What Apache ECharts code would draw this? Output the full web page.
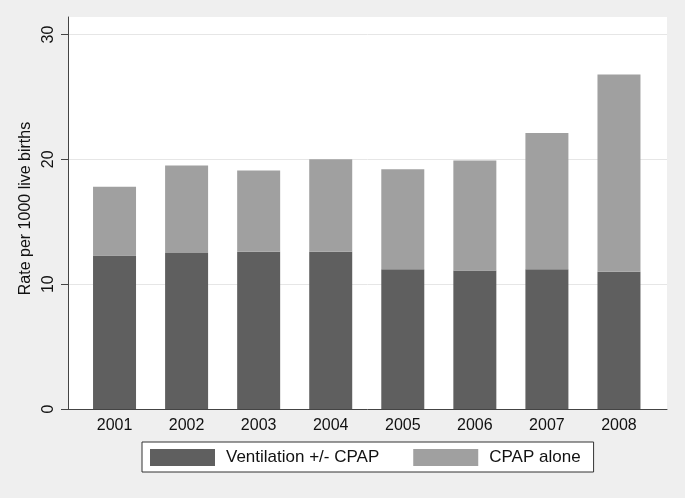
<!DOCTYPE html>
<html>
<head>
<meta charset="utf-8">
<script src="https://cdn.jsdelivr.net/npm/echarts@6/dist/echarts.min.js"></script>
<style>
  html, body { margin: 0; padding: 0; background: #efefef; }
  #main { width: 685px; height: 498px; }
</style>
</head>
<body>
<div id="main"></div>
<script>
// data
var years = ['2001', '2002', '2003', '2004', '2005', '2006', '2007', '2008'];
var ventilation = [12.3, 12.5, 12.6, 12.6, 11.2, 11.1, 11.2, 11.0];
var cpapAlone = [5.5, 7.0, 6.5, 7.4, 8.0, 8.8, 10.9, 15.8];
var yTicks = [0, 10, 20, 30];

var chart = echarts.init(document.getElementById('main'));
var font = 'Liberation Sans, Arial, sans-serif';

chart.setOption({
    backgroundColor: '#efefef',
    animation: false,
    textStyle: { fontFamily: font },
    grid: [
        // plot frame: white area, axis lines, gridlines
        { left: 68, right: 18, top: 17, bottom: 89, show: true, backgroundColor: '#ffffff', borderWidth: 0 },
        // bars sit a bit inside the frame
        { left: 78.5, right: 30, top: 17, bottom: 89 }
    ],
    legend: {
        left: 142, top: 442,
        itemWidth: 65, itemHeight: 17, itemGap: 34,
        icon: 'rect',
        padding: [7, 13, 6, 8],
        backgroundColor: '#ffffff',
        borderColor: '#333333', borderWidth: 1,
        textStyle: { fontSize: 17, color: '#111', fontFamily: font, padding: [0, 0, 0, 6] },
        data: ['Ventilation +/- CPAP', 'CPAP alone']
    },
    xAxis: [
        {
            gridIndex: 0, type: 'value', min: 0, max: 1,
            axisLine: { lineStyle: { color: '#444', width: 1 } },
            axisTick: { show: false }, axisLabel: { show: false }, splitLine: { show: false }
        },
        {
            gridIndex: 1, type: 'category', data: years,
            axisLine: { show: false }, axisTick: { show: false },
            axisLabel: { fontSize: 16, color: '#111', margin: 9 }
        }
    ],
    yAxis: [
        {
            gridIndex: 0, type: 'value', min: 0, max: 31.4,
            name: 'Rate per 1000 live births',
            nameLocation: 'middle',
            nameGap: 28,
            nameTextStyle: { fontSize: 16, color: '#111', fontFamily: font, padding: [0, 0, 0, 9] },
            axisLine: { show: true, lineStyle: { color: '#444', width: 1 } },
            axisTick: { show: true, length: 7, customValues: yTicks, lineStyle: { color: '#444' } },
            axisLabel: { customValues: yTicks, rotate: 90, fontSize: 16, color: '#111', margin: 11 },
            splitLine: { show: true, lineStyle: { color: '#e6e6e6', width: 1 } }
        },
        { gridIndex: 1, type: 'value', min: 0, max: 31.4, show: false }
    ],
    series: [
        {
            name: 'Ventilation +/- CPAP',
            type: 'bar', xAxisIndex: 1, yAxisIndex: 1,
            stack: 'total',
            barWidth: 43,
            itemStyle: { color: '#5f5f5f' },
            data: ventilation
        },
        {
            name: 'CPAP alone',
            type: 'bar', xAxisIndex: 1, yAxisIndex: 1,
            stack: 'total',
            barWidth: 43,
            itemStyle: { color: '#a0a0a0' },
            data: cpapAlone
        }
    ]
});
</script>
</body>
</html>
